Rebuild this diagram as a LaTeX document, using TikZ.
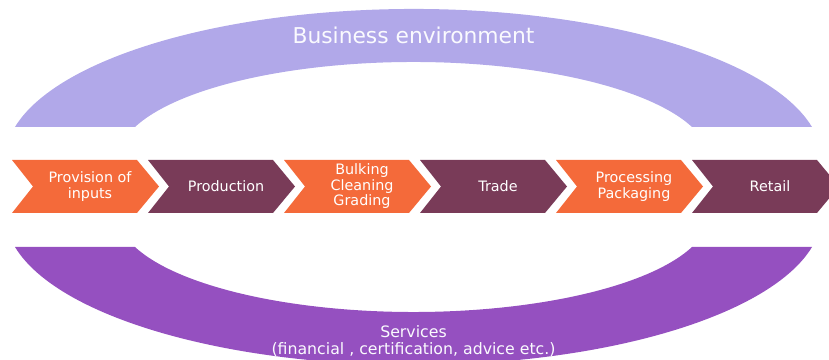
\documentclass[tikz,border=0pt]{standalone}
\usepackage{fontspec}
\setmainfont{DejaVu Sans}
\definecolor{chevorange}{RGB}{244,106,58}
\definecolor{chevplum}{RGB}{121,59,88}
\definecolor{envlilac}{RGB}{177,168,233}
\definecolor{servpurple}{RGB}{149,80,192}
\tikzset{
	chevlabel/.style={text=white, align=center, font=\fontsize{10.2}{11}\selectfont},
	bandlabel/.style={text=white!94!envlilac, align=center},
}

\begin{document}
\begin{tikzpicture}[x=0.025cm, y=0.025cm]
			%%%%% START %%%%%
			\useasboundingbox (0, 0) rectangle (829, 360);
			\clip (0, 0) rectangle (829, 360);
			
			\fill[envlilac] (812, 233) arc[start angle=12.62, end angle=167.38, x radius=408.4, y radius=151]
				-- (135, 233) arc[start angle=160.32, end angle=19.68, x radius=295.8, y radius=98] -- cycle;
			\node[bandlabel, font=\fontsize{15.5}{18}\selectfont] (envtitle) at (413.5, 325) {Business environment};
			
			\fill[servpurple] (15, 113) arc[start angle=-167.38, end angle=-12.62, x radius=408.4, y radius=151]
				-- (692, 113) arc[start angle=-19.68, end angle=-160.32, x radius=295.8, y radius=98] -- cycle;
			\node[bandlabel, font=\fontsize{11.2}{11.6}\selectfont] (services) at (413.5, 19) {Services\\(financial , certification, advice etc.)};
			
			\foreach \i/\col/\txt [evaluate=\i as \x using 12+136*(\i-1)] in
				{1/chevorange/{Provision of\\inputs}, 2/chevplum/Production, 3/chevorange/{Bulking\\Cleaning\\Grading},
				 4/chevplum/Trade, 5/chevorange/{Processing\\Packaging}, 6/chevplum/Retail}
			{
				\fill[\col] (\x, 200) -- (\x+125, 200) -- (\x+147, 173.5) -- (\x+125, 147) -- (\x, 147) -- (\x+21, 173.5) -- cycle;
				\node[chevlabel] (chev\i) at (\x+78, 173.5) {\txt};
			}
			
			%%%%% END %%%%%
\end{tikzpicture}
\end{document}
